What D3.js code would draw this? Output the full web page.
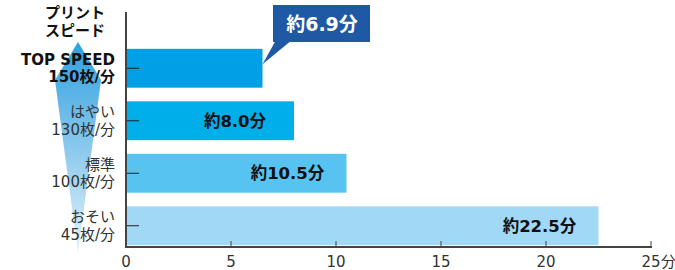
<!DOCTYPE html>
<html><head><meta charset="utf-8">
<script src="https://cdn.jsdelivr.net/npm/d3@7"></script>
<style>body{margin:0;background:#fff}svg{display:block;font-family:"DejaVu Sans","Noto Sans CJK JP",sans-serif}</style>
</head><body><svg id="c" width="675" height="270"></svg>
<script>
const categories = ["TOP SPEED 150枚/分", "はやい 130枚/分", "標準 100枚/分", "おそい 45枚/分"];
const catLine1 = ["TOP SPEED", "はやい", "標準", "おそい"];
const catLine2 = ["150枚/分", "130枚/分", "100枚/分", "45枚/分"];
const catBold = [true, false, false, false];
const barValues = [6.5, 8.0, 10.5, 22.5];
const valueLabels = ["約6.9分", "約8.0分", "約10.5分", "約22.5分"];
const barColors = ["#00a0e6", "#00aeea", "#56c3f1", "#a0d8f5"];
const xTicks = [0, 5, 10, 15, 20, 25];
const xTickLabels = ["0", "5", "10", "15", "20", "25"];

const svg = d3.select("#c");
const x = d3.scaleLinear().domain([0, 25]).range([126, 651]);
const y = d3.scaleBand().domain(categories).range([42, 252]).paddingInner(0.26).paddingOuter(0.13);

// gradient arrow
const defs = svg.append("defs");
const g = defs.append("linearGradient").attr("id", "ag").attr("x1", 0).attr("y1", 0).attr("x2", 0).attr("y2", 1);
g.append("stop").attr("offset", "0%").attr("stop-color", "#2e9fdf");
g.append("stop").attr("offset", "100%").attr("stop-color", "#e6f3fb");
svg.append("path").attr("d", "M78,42 L101,80 L78,253 L55,80 Z").attr("fill", "url(#ag)");

// title
svg.append("text").attr("x", 75).attr("y", 18).attr("text-anchor", "middle").attr("font-size", 15).attr("font-weight", "bold").attr("fill", "#111").text("プリント");
svg.append("text").attr("x", 75).attr("y", 36).attr("text-anchor", "middle").attr("font-size", 15).attr("font-weight", "bold").attr("fill", "#111").text("スピード");

// bars
svg.selectAll("rect.bar").data(categories).join("rect").attr("class", "bar")
  .attr("x", x(0)).attr("y", d => y(d)).attr("height", y.bandwidth())
  .attr("width", (d, i) => x(barValues[i]) - x(0)).attr("fill", (d, i) => barColors[i]);

// y ticks
svg.selectAll("line.yt").data(categories).join("line").attr("class", "yt")
  .attr("x1", 126).attr("x2", 139).attr("y1", d => y(d) + y.bandwidth() / 2).attr("y2", d => y(d) + y.bandwidth() / 2)
  .attr("stroke", "#222").attr("stroke-width", 1);

// category labels
categories.forEach((c, i) => {
  const cy = y(c) + y.bandwidth() / 2;
  const w = catBold[i] ? "bold" : "normal";
  const col = catBold[i] ? "#111" : "#333";
  svg.append("text").attr("x", 115).attr("y", cy - 3.5).attr("text-anchor", "end").attr("font-size", 15).attr("font-weight", w).attr("fill", col).text(catLine1[i]);
  svg.append("text").attr("x", 115).attr("y", cy + 14).attr("text-anchor", "end").attr("font-size", 15).attr("font-weight", w).attr("fill", col).text(catLine2[i]);
});

// axes
svg.append("line").attr("x1", 126).attr("x2", 126).attr("y1", 12).attr("y2", 247).attr("stroke", "#444").attr("stroke-width", 2);
svg.append("line").attr("x1", 125).attr("x2", 652).attr("y1", 247).attr("y2", 247).attr("stroke", "#444").attr("stroke-width", 2);
svg.selectAll("line.xt").data(xTicks).join("line").attr("class", "xt")
  .attr("x1", d => x(d)).attr("x2", d => x(d)).attr("y1", 241).attr("y2", 247).attr("stroke", "#444").attr("stroke-width", 1);
svg.selectAll("text.xl").data(xTicks).join("text").attr("class", "xl")
  .attr("x", d => x(d)).attr("y", 267).attr("text-anchor", "middle").attr("font-size", 15).attr("fill", "#333")
  .text((d, i) => xTickLabels[i]);
svg.append("text").attr("x", x(25) + 10).attr("y", 267).attr("font-size", 15).attr("fill", "#333").text("分");

// value labels in bars
valueLabels.forEach((t, i) => {
  if (i === 0) return;
  const c = categories[i];
  svg.append("text").attr("x", x(barValues[i]) - 59).attr("y", y(c) + y.bandwidth() / 2 + 6)
    .attr("text-anchor", "middle").attr("font-size", 16.5).attr("font-weight", "bold").attr("fill", "#111").text(t);
});

// callout
const bx = x(barValues[0]);
const by = y(categories[0]) + y.bandwidth() / 2 - 4;
svg.append("path").attr("d", `M${bx},${by} L276,40 L292,40 Z`).attr("fill", "#1f58a3");
svg.append("rect").attr("x", 273).attr("y", 5).attr("width", 97).attr("height", 37).attr("fill", "#1f58a3");
svg.append("text").attr("x", 322).attr("y", 30.5).attr("text-anchor", "middle").attr("font-size", 19).attr("font-weight", "bold").attr("fill", "#fff").text(valueLabels[0]);
</script></body></html>
